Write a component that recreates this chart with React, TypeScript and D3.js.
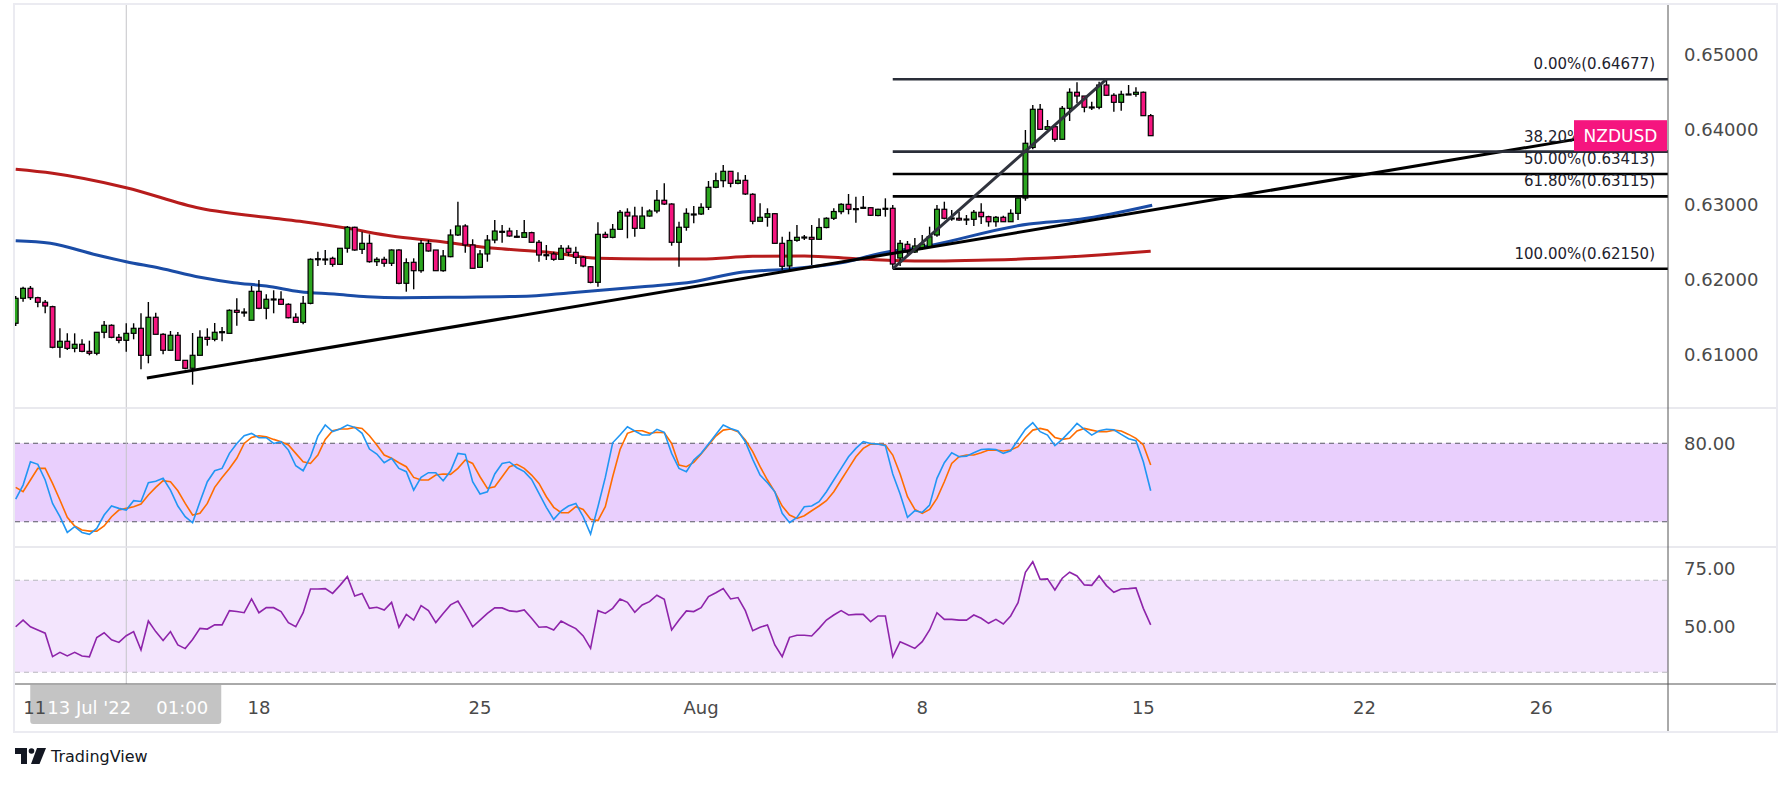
import React from "react";
import * as d3 from "d3";

const W = 1791;
const H = 785;

// ---------- candle data (4H NZDUSD, index 0 = first visible candle) ----------
const openP = [
0.61423,0.61756,0.61889,0.61764,0.61703,0.61644,0.61103,0.61183,0.61089,0.61143,
0.61049,0.61023,0.61303,0.61396,0.61236,0.61196,0.61289,0.61356,0.60996,0.61503,
0.61276,0.61063,0.61263,0.60929,0.60823,0.60996,0.61236,0.61209,0.61297,0.61289,
0.61596,0.61564,0.61463,0.61849,0.61623,0.61737,0.61743,0.61676,0.61503,0.61436,
0.61689,0.62276,0.62280,0.62289,0.62209,0.62423,0.62703,0.62409,0.62489,0.62244,
0.62276,0.62223,0.62400,0.61956,0.62236,0.62124,0.62489,0.62400,0.62124,0.62311,
0.62600,0.62720,0.62467,0.62169,0.62347,0.62533,0.62644,0.62653,0.62583,0.62569,
0.62631,0.62503,0.62337,0.62347,0.62276,0.62423,0.62369,0.62303,0.62177,0.61969,
0.62609,0.62569,0.62676,0.62903,0.62853,0.62689,0.62853,0.62920,0.63063,0.63013,
0.62503,0.62703,0.62876,0.62880,0.62969,0.63236,0.63324,0.63449,0.63289,0.63329,
0.63143,0.62783,0.62836,0.62884,0.62489,0.62187,0.62529,0.62569,0.62569,0.62543,
0.62700,0.62823,0.62911,0.63009,0.62951,0.62964,0.62964,0.62860,0.62951,0.62956,
0.62293,0.62476,0.62373,0.62427,0.62444,0.62600,0.62943,0.62823,0.62823,0.62809,
0.62809,0.62903,0.62844,0.62777,0.62836,0.62777,0.62889,0.63093,0.63767,0.64276,
0.64009,0.64044,0.63876,0.64289,0.64503,0.64453,0.64303,0.64303,0.64600,0.64463,
0.64369,0.64476,0.64476,0.64503,0.64191];
const highP = [
0.61787,0.61911,0.61920,0.61777,0.61733,0.61657,0.61356,0.61289,0.61289,0.61209,
0.61191,0.61303,0.61453,0.61409,0.61280,0.61423,0.61423,0.61556,0.61707,0.61564,
0.61289,0.61320,0.61307,0.60929,0.61293,0.61329,0.61356,0.61427,0.61373,0.61609,
0.61756,0.61623,0.61920,0.62000,0.61809,0.61863,0.61849,0.61689,0.61556,0.61787,
0.62289,0.62377,0.62400,0.62311,0.62423,0.62720,0.62711,0.62644,0.62609,0.62303,
0.62311,0.62409,0.62409,0.62289,0.62289,0.62533,0.62533,0.62400,0.62400,0.62676,
0.63044,0.62743,0.62543,0.62400,0.62600,0.62800,0.62733,0.62697,0.62667,0.62800,
0.62644,0.62533,0.62467,0.62377,0.62467,0.62463,0.62444,0.62320,0.62187,0.62769,
0.62644,0.62747,0.62933,0.62956,0.62977,0.62977,0.62943,0.63200,0.63289,0.63023,
0.62777,0.62956,0.62987,0.63023,0.63320,0.63431,0.63533,0.63449,0.63436,0.63400,
0.63156,0.63023,0.62956,0.62889,0.62577,0.62644,0.62733,0.62600,0.62733,0.62823,
0.62836,0.62956,0.63023,0.63147,0.63111,0.63120,0.62969,0.62951,0.63089,0.63000,
0.62533,0.62520,0.62560,0.62600,0.62711,0.63000,0.63044,0.62933,0.62911,0.62867,
0.62933,0.63023,0.62857,0.62853,0.62857,0.62943,0.63100,0.64000,0.64333,0.64347,
0.64133,0.64067,0.64320,0.64556,0.64636,0.64453,0.64377,0.64644,0.64677,0.64489,
0.64524,0.64600,0.64569,0.64513,0.64213];
const lowP = [
0.61387,0.61711,0.61733,0.61636,0.61556,0.61089,0.60964,0.61067,0.61036,0.61036,
0.60996,0.60996,0.61223,0.61223,0.61156,0.61044,0.61209,0.60809,0.60889,0.61276,
0.61009,0.61063,0.60929,0.60809,0.60604,0.60996,0.61124,0.61183,0.61183,0.61289,
0.61391,0.61511,0.61463,0.61609,0.61476,0.61556,0.61667,0.61489,0.61436,0.61409,
0.61676,0.62187,0.62200,0.62177,0.62209,0.62364,0.62391,0.62347,0.62231,0.62187,
0.62177,0.62187,0.61943,0.61844,0.61876,0.62097,0.62377,0.62124,0.62111,0.62303,
0.62587,0.62364,0.62156,0.62169,0.62244,0.62489,0.62497,0.62577,0.62564,0.62569,
0.62503,0.62244,0.62267,0.62257,0.62276,0.62320,0.62213,0.62169,0.61956,0.61911,
0.62556,0.62556,0.62667,0.62556,0.62577,0.62680,0.62844,0.62889,0.63000,0.62457,
0.62177,0.62657,0.62756,0.62867,0.62933,0.63223,0.63236,0.63236,0.63276,0.63133,
0.62743,0.62783,0.62711,0.62489,0.62133,0.62133,0.62511,0.62533,0.62200,0.62533,
0.62689,0.62800,0.62876,0.62876,0.62764,0.62951,0.62853,0.62849,0.62844,0.62150,
0.62187,0.62320,0.62360,0.62400,0.62427,0.62577,0.62809,0.62791,0.62791,0.62733,
0.62720,0.62747,0.62711,0.62711,0.62773,0.62773,0.62800,0.63057,0.63743,0.64000,
0.64000,0.63844,0.63867,0.64120,0.64356,0.64236,0.64267,0.64276,0.64453,0.64244,
0.64257,0.64473,0.64444,0.64191,0.63924];
const closeP = [
0.61756,0.61889,0.61764,0.61703,0.61653,0.61103,0.61183,0.61089,0.61143,0.61049,
0.61023,0.61303,0.61396,0.61236,0.61196,0.61289,0.61356,0.60996,0.61503,0.61276,
0.61063,0.61263,0.60929,0.60823,0.60996,0.61236,0.61209,0.61303,0.61311,0.61596,
0.61569,0.61573,0.61849,0.61623,0.61743,0.61747,0.61676,0.61497,0.61436,0.61689,
0.62276,0.62284,0.62276,0.62209,0.62423,0.62703,0.62400,0.62489,0.62244,0.62276,
0.62223,0.62400,0.61956,0.62231,0.62124,0.62489,0.62387,0.62124,0.62320,0.62600,
0.62720,0.62467,0.62156,0.62347,0.62533,0.62653,0.62649,0.62587,0.62577,0.62631,
0.62503,0.62333,0.62333,0.62276,0.62423,0.62369,0.62303,0.62187,0.61969,0.62609,
0.62569,0.62676,0.62903,0.62853,0.62689,0.62853,0.62920,0.63063,0.63013,0.62503,
0.62703,0.62889,0.62880,0.62969,0.63236,0.63324,0.63449,0.63289,0.63329,0.63147,
0.62783,0.62836,0.62884,0.62489,0.62183,0.62527,0.62569,0.62573,0.62543,0.62700,
0.62823,0.62913,0.63009,0.62943,0.62947,0.62969,0.62863,0.62943,0.62956,0.62213,
0.62489,0.62373,0.62453,0.62480,0.62577,0.62943,0.62823,0.62827,0.62800,0.62813,
0.62903,0.62844,0.62777,0.62836,0.62777,0.62889,0.63093,0.63823,0.64276,0.64009,
0.64044,0.63876,0.64289,0.64503,0.64453,0.64303,0.64307,0.64600,0.64463,0.64369,
0.64476,0.64480,0.64503,0.64191,0.63924];

// ---------- moving averages: [candle index, price] ----------
const maRed: [number, number][] = [
[0,0.63476],[5,0.63423],[15,0.63231],[25,0.62956],[35,0.62823],[39,0.62777],[45,0.62689],
[51,0.62587],[57,0.62520],[65,0.62423],[72,0.62373],[79,0.62289],[86,0.62280],[93,0.62280],
[100,0.62316],[107,0.62320],[114,0.62284],[119,0.62260],[125,0.62253],[132,0.62267],
[140,0.62293],[147,0.62333],[154,0.62383]];
const maBlue: [number, number][] = [
[0,0.62524],[4.7,0.62489],[11,0.62333],[15,0.62244],[19.6,0.62156],[25,0.62036],[29.6,0.61964],
[34,0.61920],[38.6,0.61844],[43.2,0.61813],[47.7,0.61777],[52.2,0.61764],[59,0.61769],[70,0.61787],
[75,0.61827],[81,0.61876],[85,0.61911],[92,0.61977],[98,0.62097],[105,0.62147],[112,0.62231],
[119,0.62387],[121,0.62409],[137.5,0.62747],[144.4,0.62809],[154.2,0.62996]];

// ---------- stochastic %K, %D and RSI ----------
const stochK = [
37.3,48.0,65.9,63.9,51.9,34.0,23.8,11.8,16.2,11.8,10.3,14.9,25.1,32.0,30.2,28.9,36.1,35.5,49.8,50.9,
53.2,44.2,32.0,23.8,19.2,35.3,50.6,59.0,60.8,72.3,79.9,85.8,87.6,84.3,84.3,79.9,81.2,74.8,62.8,59.0,
69.7,85.5,94.0,88.9,90.9,94.0,92.2,87.6,75.6,71.8,65.1,68.5,60.8,58.3,44.2,53.9,57.5,57.5,51.4,58.8,
72.3,71.5,50.6,41.2,42.9,56.5,64.6,65.7,61.3,58.3,52.4,41.7,31.0,21.8,28.2,32.0,34.0,23.8,10.5,31.5,
53.9,80.4,86.3,92.7,89.4,86.3,86.3,90.7,88.4,72.3,60.8,58.3,67.2,72.3,79.4,86.8,94.0,91.4,89.4,81.2,
67.7,55.7,49.8,42.9,26.4,19.2,23.3,31.5,32.0,35.3,42.9,51.9,60.8,69.7,76.1,81.2,79.9,79.4,78.2,56.5,
41.2,23.3,28.4,27.1,32.7,53.2,65.1,72.8,69.7,70.2,72.8,75.3,75.6,75.3,72.3,74.3,82.5,90.7,95.8,88.9,
86.3,78.2,83.0,88.9,95.2,90.7,86.3,89.6,90.7,90.4,86.8,83.5,82.0,65.9,43.7];
const stochD = [
46.3,42.9,51.9,60.8,60.8,49.3,36.6,23.3,16.7,13.6,12.8,12.8,16.7,23.8,28.9,30.2,31.5,33.5,40.4,46.3,
51.4,50.6,43.7,34.0,25.1,26.4,34.0,46.3,53.9,60.8,68.5,79.9,84.5,85.8,85.0,83.0,81.2,78.7,72.3,65.9,
64.6,71.0,83.0,89.6,90.9,90.9,92.2,91.4,85.8,78.7,71.0,68.5,65.1,62.1,53.9,51.9,51.9,55.7,56.5,56.2,
60.8,67.2,64.6,54.4,45.5,46.8,54.4,62.1,63.9,60.8,55.7,49.3,39.1,31.0,26.9,26.9,31.5,29.4,21.8,20.8,
31.5,54.4,75.3,87.6,89.6,89.6,87.6,88.4,88.1,79.9,63.4,62.1,65.4,71.8,78.7,85.5,90.1,90.9,88.9,82.5,
73.6,62.1,51.9,42.9,32.0,25.1,22.5,24.6,28.4,32.0,36.1,42.9,51.9,60.8,69.7,76.1,79.4,79.4,78.7,71.0,
56.5,39.1,29.4,26.4,29.4,37.8,50.6,64.6,69.7,71.0,71.0,72.8,74.8,74.8,74.1,74.8,77.4,84.5,90.1,91.4,
90.1,84.5,83.0,83.8,89.4,91.4,90.1,88.9,88.9,90.1,89.4,86.8,83.8,78.7,63.4];
const rsi = [
49.8,52.7,49.8,48.4,47.0,36.8,38.7,37.1,38.7,37.1,36.7,45.1,47.2,44.1,43.0,45.9,47.7,39.7,52.3,47.7,
43.8,47.7,41.9,40.3,44.3,49.1,48.8,50.6,50.6,56.8,56.4,55.9,61.9,55.9,58.1,58.1,56.4,51.6,49.8,55.9,
66.2,66.2,66.4,64.3,67.8,71.6,63.2,64.3,57.8,58.3,57.1,60.4,49.6,55.2,52.7,59.0,56.8,51.6,55.6,59.3,
61.0,55.6,49.8,52.7,55.6,58.0,58.0,56.7,56.4,57.1,53.5,49.6,49.8,48.4,52.3,50.6,49.0,45.8,40.4,56.8,
55.6,57.8,61.9,60.4,56.1,59.3,60.7,63.5,61.7,48.4,52.7,56.7,56.4,58.1,62.9,64.6,66.4,61.9,62.5,56.8,
48.1,49.6,50.6,41.9,36.8,45.2,46.1,46.1,45.8,49.1,52.7,54.9,56.8,54.9,55.2,55.2,52.0,54.5,54.5,36.8,
43.3,41.9,40.4,43.3,48.4,55.9,53.0,53.0,52.7,52.7,54.9,53.5,51.3,53.0,51.0,54.5,60.3,73.5,78.1,70.4,
70.6,65.8,70.9,73.5,71.9,68.0,67.8,71.9,67.7,64.8,66.2,66.4,66.7,57.8,50.6];

// ---------- axes, labels, drawings ----------
const priceTicks = [0.65, 0.64, 0.63, 0.62, 0.61];
const stochTicks = [80];
const rsiTicks = [75, 50];
const stochBand = [20, 80];
const rsiBand = [30, 70];
const timeLabels = [
  { i: 3, t: "11" }, { i: 33, t: "18" }, { i: 63, t: "25" }, { i: 93, t: "Aug" },
  { i: 123, t: "8" }, { i: 153, t: "15" }, { i: 183, t: "22" }, { i: 207, t: "26" },
];
const fibHigh = 0.64677;
const fibLow = 0.6215;
const fibStartIdx = 119;
const fibEndIdx = 148;
const fibLevels = [0, 0.382, 0.5, 0.618, 1];
const fibLabels = ["0.00%(0.64677)", "38.20%(0.63712)", "50.00%(0.63413)", "61.80%(0.63115)", "100.00%(0.62150)"];
const fibColors = ["#2a2e39", "#2a2e39", "#000000", "#000000", "#000000"];
const trendLine: [number, number][] = [[17.8, 0.60693], [211.6, 0.63875]];
const crossIdx = 15;
const crossDate = "13 Jul '22";
const crossTime = "01:00";
const symbol = "NZDUSD";

// ---------- layout ----------
const FRAME = { l: 14, t: 4, r: 1777, b: 732 };
const PLOT_L = 15;
const PLOT_R = 1668;
const PRICE = { t: 5, b: 408 };
const STO = { t: 408, b: 547 };
const RSI = { t: 547, b: 684 };
const FONT = "'DejaVu Sans', Verdana, sans-serif";
const GREEN = "#2ba51f";
const PINK = "#f5157f";
const AXIS_TEXT = "#4a4a4a";

export default function App() {
  const x = d3.scaleLinear().domain([0, 154]).range([15.7, 1150.7]);
  const y = d3.scaleLinear().domain([0.61, 0.65]).range([355, 55]);
  const yS = d3.scaleLinear().domain([20, 80]).range([521.7, 443.3]);
  const yR = d3.scaleLinear().domain([30, 70]).range([672.3, 580.3]);

  const maLine = d3
    .line<[number, number]>()
    .x((d) => x(d[0]))
    .y((d) => y(d[1]))
    .curve(d3.curveMonotoneX);
  const idxLine = (sc: d3.ScaleLinear<number, number>) =>
    d3
      .line<number>()
      .x((_, i) => x(i))
      .y((d) => sc(d));

  const candles = openP.map((o, i) => ({ o, h: highP[i], l: lowP[i], c: closeP[i], i }));
  const bodyW = 4.8;

  const fibPrices = fibLevels.map((lv) => fibHigh - lv * (fibHigh - fibLow));
  const last = closeP[closeP.length - 1];
  const tagW = 93;
  const tagH = 31;

  const crossX = x(crossIdx);

  return (
    <div>
      <style>{"body{margin:0;background:#fff}"}</style>
      <svg width={W} height={H} style={{ display: "block" }} fontFamily={FONT}>
        <defs>
          <clipPath id="cp-price">
            <rect x={PLOT_L} y={PRICE.t} width={PLOT_R - PLOT_L} height={PRICE.b - PRICE.t} />
          </clipPath>
          <clipPath id="cp-sto">
            <rect x={PLOT_L} y={STO.t} width={PLOT_R - PLOT_L} height={STO.b - STO.t} />
          </clipPath>
          <clipPath id="cp-rsi">
            <rect x={PLOT_L} y={RSI.t} width={PLOT_R - PLOT_L} height={RSI.b - RSI.t} />
          </clipPath>
        </defs>
        <rect width={W} height={H} fill="#ffffff" />

        {/* indicator backgrounds */}
        <rect x={PLOT_L} y={yS(stochBand[1])} width={PLOT_R - PLOT_L} height={yS(stochBand[0]) - yS(stochBand[1])} fill="#e9cffd" />
        <rect x={PLOT_L} y={yR(rsiBand[1])} width={PLOT_R - PLOT_L} height={yR(rsiBand[0]) - yR(rsiBand[1])} fill="#f3e5fd" />
        {stochBand.map((v) => (
          <line key={"sb" + v} x1={PLOT_L} x2={PLOT_R} y1={yS(v)} y2={yS(v)} stroke="#5a5a64" strokeWidth={1.1} strokeDasharray="5,4" />
        ))}
        {rsiBand.map((v) => (
          <line key={"rb" + v} x1={PLOT_L} x2={PLOT_R} y1={yR(v)} y2={yR(v)} stroke="#b8b8be" strokeWidth={1.1} strokeDasharray="5,4" />
        ))}

        {/* crosshair vertical */}
        <line x1={crossX} x2={crossX} y1={PRICE.t} y2={RSI.b} stroke="#c4c4c8" strokeWidth={1} />

        {/* pane separators */}
        <line x1={FRAME.l} x2={FRAME.r} y1={STO.t} y2={STO.t} stroke="#e2e2e8" strokeWidth={1.5} />
        <line x1={FRAME.l} x2={FRAME.r} y1={RSI.t} y2={RSI.t} stroke="#e2e2e8" strokeWidth={1.5} />

        {/* price pane */}
        <g clipPath="url(#cp-price)">
          <path d={maLine(maRed) || ""} fill="none" stroke="#b71c1c" strokeWidth={3} />
          <path d={maLine(maBlue) || ""} fill="none" stroke="#1a4ca6" strokeWidth={3} />
          {candles.map((d) => {
            const up = d.c >= d.o;
            const yt = y(Math.max(d.o, d.c));
            const yb = y(Math.min(d.o, d.c));
            return (
              <g key={d.i}>
                <line x1={x(d.i)} x2={x(d.i)} y1={y(d.h)} y2={y(d.l)} stroke="#000" strokeWidth={1.4} />
                <rect
                  x={x(d.i) - bodyW / 2}
                  y={yt}
                  width={bodyW}
                  height={Math.max(1, yb - yt)}
                  fill={up ? GREEN : PINK}
                  stroke="#000"
                  strokeWidth={1.2}
                />
              </g>
            );
          })}
          <line
            x1={x(trendLine[0][0])}
            y1={y(trendLine[0][1])}
            x2={x(trendLine[1][0])}
            y2={y(trendLine[1][1])}
            stroke="#000"
            strokeWidth={3}
          />
          {fibPrices.map((p, k) => (
            <line key={"fib" + k} x1={x(fibStartIdx)} x2={PLOT_R} y1={y(p)} y2={y(p)} stroke={fibColors[k]} strokeWidth={2.6} />
          ))}
          <line
            x1={x(fibStartIdx)}
            y1={y(fibLow)}
            x2={x(fibEndIdx)}
            y2={y(fibHigh)}
            stroke="#30333d"
            strokeWidth={3}
          />
          {fibPrices.map((p, k) => (
            <text key={"fl" + k} x={1655} y={y(p) - 10} textAnchor="end" fontSize={15} fill="#1e222d">
              {fibLabels[k]}
            </text>
          ))}
        </g>

        {/* stochastic */}
        <g clipPath="url(#cp-sto)">
          <path d={idxLine(yS)(stochD) || ""} fill="none" stroke="#ff6d00" strokeWidth={1.6} />
          <path d={idxLine(yS)(stochK) || ""} fill="none" stroke="#2196f3" strokeWidth={1.6} />
        </g>

        {/* RSI */}
        <g clipPath="url(#cp-rsi)">
          <path d={idxLine(yR)(rsi) || ""} fill="none" stroke="#8e24aa" strokeWidth={1.6} />
        </g>

        {/* axes lines */}
        <line x1={PLOT_R} x2={PLOT_R} y1={FRAME.t} y2={FRAME.b} stroke="#555" strokeWidth={1} />
        <line x1={FRAME.l} x2={FRAME.r} y1={RSI.b} y2={RSI.b} stroke="#555" strokeWidth={1} />

        {/* price axis labels */}
        {priceTicks.map((p) => (
          <text key={"pt" + p} x={1684} y={y(p)} dy="0.36em" fontSize={18} fill={AXIS_TEXT}>
            {p.toFixed(5)}
          </text>
        ))}
        {stochTicks.map((v) => (
          <text key={"st" + v} x={1684} y={yS(v)} dy="0.36em" fontSize={18} fill={AXIS_TEXT}>
            {v.toFixed(2)}
          </text>
        ))}
        {rsiTicks.map((v) => (
          <text key={"rt" + v} x={1684} y={yR(v)} dy="0.36em" fontSize={18} fill={AXIS_TEXT}>
            {v.toFixed(2)}
          </text>
        ))}

        {/* last price tag */}
        <rect x={PLOT_R - tagW - 1} y={y(last) - tagH / 2} width={tagW} height={tagH} fill={PINK} />
        <text x={PLOT_R - 1 - tagW / 2} y={y(last)} dy="0.36em" textAnchor="middle" fontSize={17} fill="#fff">
          {symbol}
        </text>

        {/* time axis */}
        {timeLabels.map((d) => (
          <text key={"tl" + d.t} x={x(d.i)} y={708} dy="0.36em" textAnchor="middle" fontSize={18} fill={AXIS_TEXT}>
            {d.t}
          </text>
        ))}
        <path
          d={`M${crossX - 96},${RSI.b + 1} H${crossX + 95} V${RSI.b + 37} a3,3 0 0 1 -3,3 H${crossX - 93} a3,3 0 0 1 -3,-3 Z`}
          fill="#c4c4c4"
        />
        <text x={crossX - 37} y={708} dy="0.36em" textAnchor="middle" fontSize={18} fill="#ffffff">
          {crossDate}
        </text>
        <text x={crossX + 56} y={708} dy="0.36em" textAnchor="middle" fontSize={18} fill="#ffffff">
          {crossTime}
        </text>
        <text x={x(timeLabels[0].i) - 3} y={708} dy="0.36em" textAnchor="middle" fontSize={18} fill={AXIS_TEXT}>
          {timeLabels[0].t}
        </text>

        {/* frame */}
        <rect
          x={FRAME.l}
          y={FRAME.t}
          width={FRAME.r - FRAME.l}
          height={FRAME.b - FRAME.t}
          fill="none"
          stroke="#ebebf1"
          strokeWidth={2}
        />

        {/* TradingView logo */}
        <g fill="#131722">
          <path d="M15,748 H27 V764 H21 V754 H15 Z" />
          <circle cx={31.5} cy={751} r={2.8} />
          <path d="M37,748 H46 L39.5,764 H31 Z" />
        </g>
        <text x={51} y={762} fontSize={16} fill="#131722">
          TradingView
        </text>
      </svg>
    </div>
  );
}
